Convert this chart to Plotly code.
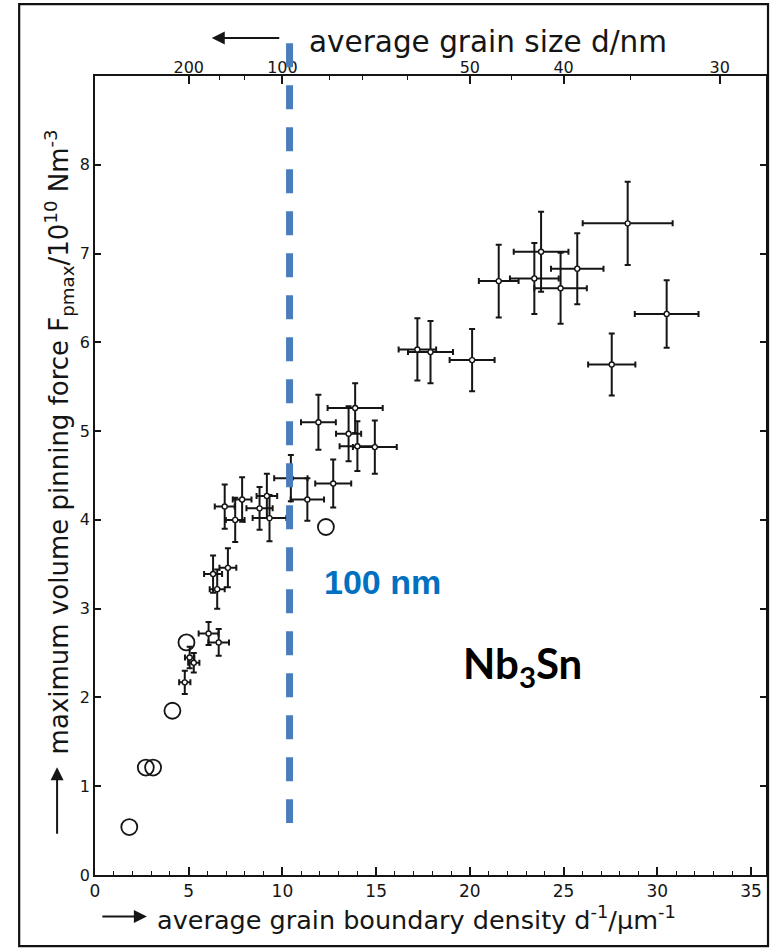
import plotly.graph_objects as go

# ---------------- data ----------------
# open circles without error bars
circ_x = [1.83, 2.71, 3.10, 4.13, 4.88, 12.32]
circ_y = [0.54, 1.21, 1.21, 1.85, 2.62, 3.92]

# points with error bars: x, y, x-error, y-error
pt_x = [4.79, 5.05, 5.27, 6.06, 6.60, 6.30, 6.52, 7.09,
        6.92, 7.48, 7.85, 8.78, 9.17, 9.31, 10.45, 11.33,
        11.92, 12.71, 13.88, 13.53, 14.00, 14.93,
        17.20, 17.90, 20.12, 21.54, 23.44, 23.80, 24.84, 25.73,
        28.42, 27.57, 30.50]
pt_y = [2.17, 2.45, 2.39, 2.72, 2.62, 3.39, 3.22, 3.46,
        4.15, 4.00, 4.23, 4.13, 4.27, 4.02, 4.47, 4.23,
        5.10, 4.41, 5.26, 4.97, 4.83, 4.82,
        5.92, 5.89, 5.80, 6.69, 6.72, 7.02, 6.61, 6.83,
        7.34, 5.75, 6.32]
pt_ex = [0.30, 0.25, 0.30, 0.53, 0.55, 0.48, 0.40, 0.45,
         0.53, 0.50, 0.50, 0.70, 0.55, 0.90, 0.89, 0.89,
         0.93, 0.96, 1.47, 0.67, 0.95, 1.17,
         1.00, 1.20, 1.20, 1.06, 1.30, 1.46, 1.40, 1.40,
         2.40, 1.26, 1.70]
pt_ey = [0.13, 0.12, 0.11, 0.13, 0.15, 0.21, 0.22, 0.22,
         0.25, 0.25, 0.25, 0.24, 0.25, 0.26, 0.26, 0.24,
         0.31, 0.27, 0.28, 0.31, 0.28, 0.30,
         0.35, 0.35, 0.35, 0.41, 0.40, 0.45, 0.40, 0.40,
         0.47, 0.35, 0.38]

# axes
X_MAX = 35.8
Y_MAX = 9.0
y_ticks = [0, 1, 2, 3, 4, 5, 6, 7, 8]
x_ticks = [0, 5, 10, 15, 20, 25, 30, 35]
top_d_major = [200, 100, 50, 40, 30]
top_d_minor = [150, 125, 80, 70, 60, 45, 35]

# annotations / marker line
DASH_X = 10.38           # position of the 100 nm marker line (grain boundary density)
DASH_Y_TOP = 9.37
DASH_Y_BOTTOM = 0.585

FONT = "DejaVu Sans"
INK = "#151515"

fig = go.Figure()

fig.add_trace(go.Scatter(
    x=pt_x, y=pt_y, mode="markers",
    marker=dict(symbol="circle", size=5, color="white",
                line=dict(color=INK, width=1.4)),
    error_x=dict(type="data", array=pt_ex, color=INK, thickness=2, width=3),
    error_y=dict(type="data", array=pt_ey, color=INK, thickness=2, width=3),
    showlegend=False, hoverinfo="skip"))

fig.add_trace(go.Scatter(
    x=circ_x, y=circ_y, mode="markers",
    marker=dict(symbol="circle-open", size=16, color=INK,
                line=dict(color=INK, width=1.8)),
    showlegend=False, hoverinfo="skip"))

# dummy trace to activate the top axis
fig.add_trace(go.Scatter(x=[X_MAX / 2], y=[Y_MAX / 2], xaxis="x2", mode="markers",
                         marker=dict(opacity=0), showlegend=False, hoverinfo="skip"))

fig.update_layout(
    width=772, height=950,
    margin=dict(l=95, r=4, t=76, b=75),
    paper_bgcolor="white", plot_bgcolor="white",
    font=dict(family=FONT, color=INK, size=16),
    xaxis=dict(range=[0, X_MAX], tickmode="array", tickvals=x_ticks,
               ticks="inside", ticklen=8, tickwidth=1.5, tickcolor=INK,
               showline=True, linecolor=INK, linewidth=1.6,
               showgrid=False, zeroline=False,
               tickfont=dict(size=17),
               minor=dict(dtick=1, tick0=0, ticks="inside", ticklen=4,
                          tickwidth=1.3, tickcolor=INK)),
    xaxis2=dict(range=[0, X_MAX], overlaying="x", side="top", anchor="y",
                tickmode="array", tickvals=[1000.0 / d for d in top_d_major],
                ticktext=[str(d) for d in top_d_major],
                ticks="inside", ticklen=8, tickwidth=1.5, tickcolor=INK,
                showline=True, linecolor=INK, linewidth=1.6,
                showgrid=False, zeroline=False,
                ticklabelstandoff=-5,
                tickfont=dict(size=16),
                minor=dict(tickmode="array",
                           tickvals=[1000.0 / d for d in top_d_minor],
                           ticks="inside", ticklen=4, tickwidth=1.3,
                           tickcolor=INK)),
    yaxis=dict(range=[0, Y_MAX], tickmode="array", tickvals=y_ticks,
               ticks="inside", ticklen=6, tickwidth=1.5, tickcolor=INK,
               showline=True, linecolor=INK, linewidth=1.6, mirror="ticks",
               showgrid=False, zeroline=False, tickfont=dict(size=16)),
)

# outer frame
fig.add_shape(type="rect", xref="paper", yref="paper",
              x0=-0.113, x1=1.003, y0=-0.0889, y1=1.090,
              line=dict(color="#111111", width=2.2), fillcolor="rgba(0,0,0,0)")

# 100 nm dashed marker line
fig.add_shape(type="line", xref="paper", yref="paper",
              x0=DASH_X / X_MAX, x1=DASH_X / X_MAX,
              y0=DASH_Y_TOP / Y_MAX, y1=DASH_Y_BOTTOM / Y_MAX,
              line=dict(color="#4a7ebb", width=7, dash="24px,18px"))

# axis titles
fig.add_annotation(xref="paper", yref="paper", x=0.0892, y=-0.0535,
                   xanchor="left", yanchor="middle", showarrow=False,
                   text="average grain boundary density d<sup>-1</sup>/μm<sup>-1</sup>",
                   font=dict(size=25.5, family=FONT, color=INK))
fig.add_annotation(xref="paper", yref="paper", x=0.0773, y=-0.052,
                   ax=-46, ay=0, text="", showarrow=True,
                   arrowhead=2, arrowsize=1.3, arrowwidth=2, arrowcolor=INK)

fig.add_annotation(xref="paper", yref="paper", x=0.316, y=1.043,
                   xanchor="left", yanchor="middle", showarrow=False,
                   text="average grain size d/nm",
                   font=dict(size=29.5, family=FONT, color=INK))
fig.add_annotation(xref="paper", yref="paper", x=0.174, y=1.0476,
                   ax=69, ay=0, text="", showarrow=True,
                   arrowhead=2, arrowsize=1.3, arrowwidth=2, arrowcolor=INK)

fig.add_annotation(xref="paper", yref="paper", x=-0.053, y=0.542,
                   xanchor="center", yanchor="middle", showarrow=False,
                   textangle=-90,
                   text="maximum volume pinning force F<sub>pmax</sub>/10<sup>10</sup> Nm<sup>-3</sup>",
                   font=dict(size=26, family=FONT, color=INK))
fig.add_annotation(xref="paper", yref="paper", x=-0.0565, y=0.135,
                   ax=0, ay=68, text="", showarrow=True,
                   arrowhead=2, arrowsize=1.3, arrowwidth=2, arrowcolor=INK)

# labels inside plot
fig.add_annotation(xref="paper", yref="paper", x=0.428, y=0.367,
                   xanchor="center", yanchor="middle", showarrow=False,
                   text="<b>100 nm</b>",
                   font=dict(size=34, family="Liberation Sans Narrow, Liberation Sans, Arial",
                             color="#0070C0"))
fig.add_annotation(xref="paper", yref="paper", x=0.637, y=0.262,
                   xanchor="center", yanchor="middle", showarrow=False,
                   text="<b>Nb<sub>3</sub>Sn</b>",
                   font=dict(size=42, family="Lato, Carlito, Open Sans", color="#000000"))

fig.write_html("out.html")
